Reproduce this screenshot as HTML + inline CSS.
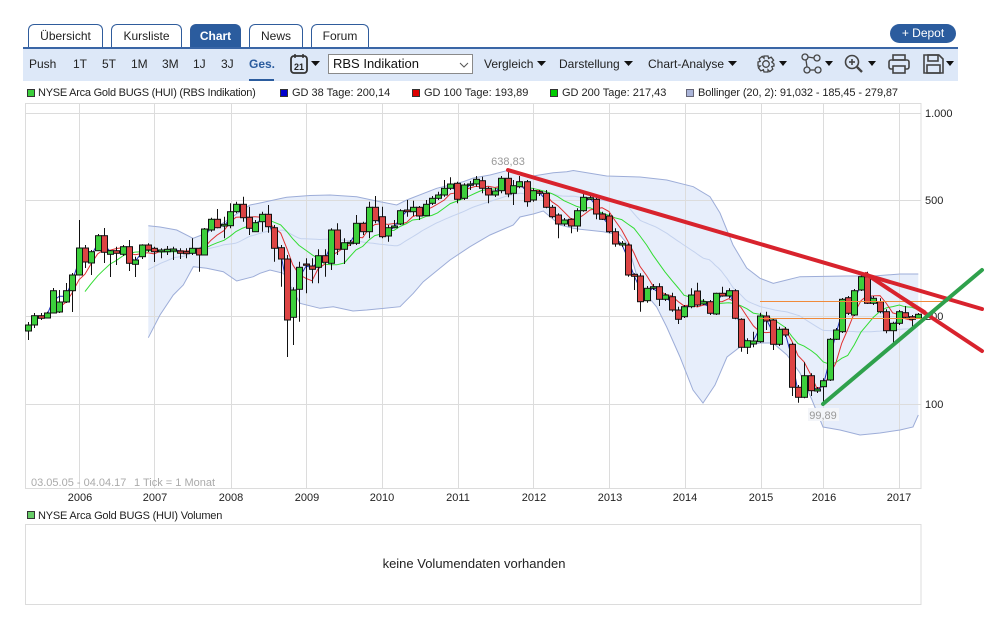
<!DOCTYPE html>
<html><head><meta charset="utf-8">
<style>
*{margin:0;padding:0;box-sizing:border-box}
body{width:1008px;height:630px;background:#fff;font-family:"Liberation Sans",Arial,sans-serif;color:#222;position:relative;overflow:hidden}
.a{position:absolute;white-space:nowrap}
.tab{position:absolute;top:24px;height:25px;border:1px solid #2f5c9c;border-bottom:none;border-radius:6px 6px 0 0;background:#fff;font-size:12px;line-height:23px;text-align:center;color:#222}
.tab.act{background:#2b5c9e;color:#fff;font-weight:bold}
.tb{position:absolute;left:23px;top:47px;width:935px;height:34px;background:#dde8f8;border-top:2px solid #3a66a6}
.ti{position:absolute;top:57px;font-size:12px;line-height:14px;color:#222;white-space:nowrap}
.lg{position:absolute;top:87px;font-size:11px;line-height:13px;color:#222;white-space:nowrap}
.bx{position:absolute;top:89px;width:8px;height:8px;border:1px solid #333}
</style></head>
<body>
<div class="tab" style="left:28px;width:75px">Übersicht</div>
<div class="tab" style="left:111px;width:71px">Kursliste</div>
<div class="tab act" style="left:190px;width:51px">Chart</div>
<div class="tab" style="left:249px;width:54px">News</div>
<div class="tab" style="left:311px;width:58px">Forum</div>
<div class="a" style="left:890px;top:24px;width:66px;height:19px;border-radius:10px;background:#2b5c9e;color:#fff;font-size:12px;line-height:19px;text-align:center">+ Depot</div>

<div class="tb"></div>
<div class="ti" style="left:29px">Push</div>
<div class="ti" style="left:73px">1T</div>
<div class="ti" style="left:102px">5T</div>
<div class="ti" style="left:131px">1M</div>
<div class="ti" style="left:162px">3M</div>
<div class="ti" style="left:193px">1J</div>
<div class="ti" style="left:221px">3J</div>
<div class="ti" style="left:249px;color:#2b5c9e;font-weight:bold">Ges.</div>
<div class="a" style="left:249px;top:79px;width:25px;height:2px;background:#2b5c9e"></div>
<div class="a" style="left:328px;top:54px;width:145px;height:20px;background:#fff;border:1px solid #8a8a8a;font-size:13px;line-height:18px;padding-left:4px;color:#111">RBS Indikation</div>
<div class="ti" style="left:484px">Vergleich</div>
<div class="ti" style="left:559px">Darstellung</div>
<div class="ti" style="left:648px">Chart-Analyse</div>

<svg class="a" style="left:0;top:0" width="1008" height="90" viewBox="0 0 1008 90">
 <g fill="#111">
  <polygon points="311,61 320,61 315.5,66"/>
  <polygon points="537,61 546,61 541.5,66"/>
  <polygon points="624,61 633,61 628.5,66"/>
  <polygon points="728,61 737,61 732.5,66"/>
  <polygon points="779,61 787,61 783,66"/>
  <polygon points="825,61 833,61 829,66"/>
  <polygon points="868,61 876,61 872,66"/>
  <polygon points="946,61 954,61 950,66"/>
 </g>
 <rect x="291" y="56" width="16" height="17" rx="3" fill="none" stroke="#333" stroke-width="1.8"/>
 <line x1="295" y1="54" x2="295" y2="58" stroke="#333" stroke-width="1.5"/>
 <line x1="303" y1="54" x2="303" y2="58" stroke="#333" stroke-width="1.5"/>
 <text x="299" y="70" font-size="9" font-weight="bold" text-anchor="middle" fill="#222" font-family="Liberation Sans, sans-serif">21</text>
 <polyline points="460,63 464,67 468,63" fill="none" stroke="#555" stroke-width="1"/>
 <g transform="translate(766,64)" fill="none" stroke="#444" stroke-width="1.3">
  <circle r="3.3"/>
  <path d="M-2,-8 L2,-8 L2.6,-5.6 L5.2,-6.8 L7.6,-3.8 L5.8,-2 L8,0 L8,2 L5.8,2.6 L6.8,5.2 L3.8,7.6 L2,5.8 L2,8 L-2,8 L-2.6,5.8 L-5.2,6.8 L-7.6,3.8 L-5.8,2 L-8,2 L-8,-2 L-5.8,-2.6 L-6.8,-5.2 L-3.8,-7.6 L-2,-5.8 Z"/>
 </g>
 <g fill="none" stroke="#444" stroke-width="1.3">
  <circle cx="805" cy="57" r="3"/><circle cx="817" cy="58" r="3"/><circle cx="807" cy="70" r="3"/><circle cx="818" cy="70" r="3"/>
  <line x1="808" y1="57" x2="814" y2="58"/><line x1="806" y1="60" x2="807" y2="67"/><line x1="810" y1="70" x2="815" y2="70"/>
 </g>
 <g fill="none" stroke="#444" stroke-width="1.6">
  <circle cx="852" cy="62" r="6.5"/>
  <line x1="849" y1="62" x2="855" y2="62"/><line x1="852" y1="59" x2="852" y2="65"/>
  <line x1="857" y1="67" x2="862" y2="72" stroke-width="2.4"/>
 </g>
 <g fill="none" stroke="#444" stroke-width="1.6">
  <rect x="893" y="55" width="12" height="5"/>
  <rect x="889" y="60" width="20" height="9" rx="2"/>
  <rect x="893" y="66" width="12" height="7" fill="#dde8f8"/>
 </g>
 <g fill="none" stroke="#444" stroke-width="1.6">
  <path d="M924,55 L939,55 L943,59 L943,73 L924,73 Z"/>
  <rect x="928" y="55" width="10" height="6"/>
  <rect x="927" y="65" width="13" height="8"/>
 </g>
</svg>

<div class="bx" style="left:27px;background:#3ccf3c"></div>
<div class="lg" style="left:38px;letter-spacing:-0.25px">NYSE Arca Gold BUGS (HUI) (RBS Indikation)</div>
<div class="bx" style="left:280px;background:#0000cc"></div>
<div class="lg" style="left:292px">GD 38 Tage: 200,14</div>
<div class="bx" style="left:412px;background:#dd0000"></div>
<div class="lg" style="left:424px">GD 100 Tage: 193,89</div>
<div class="bx" style="left:550px;background:#00cc00"></div>
<div class="lg" style="left:562px">GD 200 Tage: 217,43</div>
<div class="bx" style="left:686px;background:#aab4d8;border-color:#667"></div>
<div class="lg" style="left:698px;letter-spacing:-0.1px">Bollinger (20, 2): 91,032 - 185,45 - 279,87</div>

<svg id="ch" class="a" style="left:0;top:0" width="1008" height="630" viewBox="0 0 1008 630" font-family="Liberation Sans, sans-serif">
 <g id="bandfill"></g>
 <g stroke="#dcdcdc" stroke-width="1" fill="none">
  <rect x="25.5" y="103.5" width="895.5" height="385"/>
  <line x1="26" y1="113.5" x2="921" y2="113.5"/>
  <line x1="26" y1="200.5" x2="921" y2="200.5"/>
  <line x1="26" y1="316.5" x2="921" y2="316.5"/>
  <line x1="26" y1="404.5" x2="921" y2="404.5"/>
  <line x1="79.5" y1="103" x2="79.5" y2="488"/>
  <line x1="154.5" y1="103" x2="154.5" y2="488"/>
  <line x1="231.5" y1="103" x2="231.5" y2="488"/>
  <line x1="306.5" y1="103" x2="306.5" y2="488"/>
  <line x1="382.5" y1="103" x2="382.5" y2="488"/>
  <line x1="458.5" y1="103" x2="458.5" y2="488"/>
  <line x1="533.5" y1="103" x2="533.5" y2="488"/>
  <line x1="609.5" y1="103" x2="609.5" y2="488"/>
  <line x1="685.5" y1="103" x2="685.5" y2="488"/>
  <line x1="761.5" y1="103" x2="761.5" y2="488"/>
  <line x1="823.5" y1="103" x2="823.5" y2="488"/>
  <line x1="899.5" y1="103" x2="899.5" y2="488"/>
  <rect x="25.5" y="524.5" width="895.5" height="80"/>
 </g>
 <g id="dyn"></g>
 <g font-size="11" fill="#222">
  <text x="925" y="117">1.000</text>
  <text x="925" y="204">500</text>
  <text x="925" y="320">200</text>
  <text x="925" y="408">100</text>
 </g>
 <g id="over"></g>
 <g font-size="11" fill="#222" text-anchor="middle">
  <text x="80" y="501">2006</text><text x="155" y="501">2007</text><text x="231" y="501">2008</text>
  <text x="307" y="501">2009</text><text x="382" y="501">2010</text><text x="458" y="501">2011</text>
  <text x="534" y="501">2012</text><text x="610" y="501">2013</text><text x="685" y="501">2014</text>
  <text x="761" y="501">2015</text><text x="824" y="501">2016</text><text x="899" y="501">2017</text>
 </g>
 <text x="31" y="486" font-size="11" fill="#aaa">03.05.05 - 04.04.17</text>
 <text x="134" y="486" font-size="11" fill="#aaa">1 Tick = 1 Monat</text>
 <text x="508" y="165" font-size="11" fill="#999" text-anchor="middle">638,83</text>
 <rect x="808" y="408" width="31" height="13" fill="#f3f5f9"/>
 <text x="823" y="419" font-size="11" fill="#999" text-anchor="middle">99,89</text>
 <rect x="27.5" y="511.5" width="7" height="7" fill="#66cc66" stroke="#333"/>
 <text x="38" y="519" font-size="11" fill="#222" letter-spacing="-0.2">NYSE Arca Gold BUGS (HUI) Volumen</text>
 <text x="474" y="568" font-size="13" fill="#222" text-anchor="middle">keine Volumendaten vorhanden</text>
</svg>

<script>
(function(){
var C=[[27.7,325,331,322,340,'g'],[33.7,315.7,325,313,328,'g'],[41,315.7,318.3,313,320,'r'],[46.7,313,318,311.7,318,'g'],[52.7,290.7,313,288,313,'g'],[59.3,302,312,290,313,'g'],[65.7,290.7,302,283,303,'g'],[71.7,275,290.7,273,312,'g'],[79,248,275,220,275,'g'],[85,248,262,245,268,'r'],[90.7,251.7,263,250,275,'g'],[97.7,235.7,250.7,234,251,'g'],[104,235.7,252.3,228,263,'r'],[110,250.7,254.3,250,277,'g'],[116,250.7,253.3,246.7,265,'r'],[123,246.7,254.3,245,256,'g'],[129,246.7,263.3,240,271,'r'],[135,260,264.3,256.7,277,'g'],[142,245,256.7,244.3,259,'g'],[147.7,245,250,243.3,252,'r'],[154,248.3,251.7,246.7,262,'r'],[160.7,250,251.7,248.3,258.3,'g'],[166.7,249.3,251.7,246,255,'g'],[172.7,249,251,246.7,260,'g'],[180,251,253.3,248.3,259,'r'],[186,251.7,253.7,248.3,258.3,'r'],[192,248.3,253.3,238.3,255,'g'],[198.7,248.3,255,247.7,271.7,'r'],[204.3,229,255,228,255,'g'],[211,219.3,230,217.7,231.7,'g'],[217,219.3,227.7,209,228.3,'r'],[224,224.3,226,216.7,238.3,'d'],[230,211.7,225.7,203.3,228.3,'g'],[236,204.3,211.7,201.7,213.3,'g'],[242.7,204.3,217.7,196.7,221.7,'r'],[249,217.3,228.3,206.7,235,'r'],[255,222.7,231.7,220,232,'g'],[261.7,214.3,221.7,211.7,231.7,'g'],[267.7,214.3,226.7,205,232.7,'r'],[274,227.7,248.3,225,261.7,'r'],[280.7,247.7,259,245,286.7,'r'],[287,259,320,255,357,'r'],[292.7,290,317.3,287.3,345,'g'],[299,267.3,289.3,261.7,321.7,'g'],[306,264,265.3,258.3,293.3,'r'],[312,266,269.3,258.3,283.3,'r'],[318,255.7,267.3,249.3,283.3,'g'],[325,255.7,262.3,249.3,276.7,'r'],[331,230,263.3,228.3,270,'g'],[336.7,230,249.3,223.3,255,'r'],[344.3,242.7,249.3,238.3,264,'g'],[350,242.3,243.7,240,246,'d'],[356,223.3,243.3,215,245,'g'],[362.7,223.3,231.7,221.7,235,'r'],[368.7,207.3,231.7,201.7,238.3,'g'],[374.7,207.3,220.7,196,223.3,'r'],[382,216.7,236.7,206.7,238.3,'r'],[387.7,227.7,236,225,241.7,'g'],[394,226,227.7,220,228.3,'d'],[400,210.7,224,209.3,225,'g'],[406.7,210,211.7,200,216.7,'r'],[412.7,207.3,211.7,200.7,216,'g'],[419,207.3,216,206,220,'r'],[425.7,204.3,215.7,200,216,'g'],[431.7,198.3,203.3,196,205,'g'],[437.7,195,198.3,191.7,200,'g'],[444.3,188.3,195,180,196.7,'g'],[450.3,184,188.3,177.3,190,'g'],[457,183.3,199.3,181.7,203.3,'r'],[463.7,185,198.3,183.3,200,'g'],[469.7,184,185.3,181,190,'d'],[475.7,179.3,184,176,186.7,'g'],[481.7,180.7,188.3,176.7,193.3,'r'],[488.3,188.3,195,186.7,203.3,'r'],[495,191,195,188,197,'g'],[501,178.3,190.7,176,193.3,'g'],[508,178.3,194,169.4,197.3,'r'],[513.3,185.7,193.3,180,205,'g'],[519.3,181.7,186.7,176,188.3,'g'],[526.7,181.7,201.7,180,206.7,'r'],[532.7,190.7,200,188.3,201.7,'g'],[539,191.7,193.3,190,196,'r'],[546,193.3,207.3,190,208.3,'r'],[551.7,207.3,216.7,205,218.3,'r'],[557.7,215,224,213.3,238.3,'r'],[564,220,224,218,226,'g'],[570.7,219.3,226,218.3,233.3,'r'],[576.7,210.7,226,208.3,231.7,'g'],[583.3,197.3,210.7,193.3,211.7,'g'],[590,197.7,199.3,195,200,'d'],[596,199.3,214,196.7,219.3,'r'],[602,214,219.3,211.7,220,'r'],[609,216,231.7,213.3,233.3,'r'],[615,231.7,244,228.3,246.7,'r'],[621.7,243.3,245,241,247,'d'],[628,245,275,243.3,276.7,'r'],[634,274.3,276.3,273.3,290,'r'],[640,276,301.7,273.3,311.7,'r'],[646.7,288.3,300.7,286,302.7,'g'],[652.7,286.7,288.3,284,290,'d'],[659,286.7,299.3,283.3,306,'r'],[665,295,299.3,293,301,'g'],[671.7,296.7,310,292.7,311.7,'r'],[678.3,310,319.3,306.7,324,'r'],[684,306.7,316.7,305,318,'g'],[691,295,306.7,288.3,308.3,'g'],[697.3,291,305,282.7,306.7,'r'],[702.7,301.7,304,299,305,'g'],[710,301.7,313.3,300,315,'r'],[716,293.3,314,292.7,315,'g'],[722,293.3,296,286.7,296.7,'r'],[728.7,290.7,296,288.3,298.3,'g'],[734.7,290.7,318.3,289.3,319.3,'r'],[741,319.3,347.3,318.3,351.7,'r'],[747,340.7,347.3,338.3,354,'g'],[753.3,341,344,331.7,347.3,'g'],[760,316,341.7,312.7,342.7,'g'],[766,316,321,311.7,330,'r'],[772.7,320,344.3,318.3,350,'r'],[778.7,329.3,344.3,326.7,346,'g'],[785,329.3,335,327,337,'r'],[792,344.3,387.3,342.7,396,'r'],[798,387.3,397.3,385,402.7,'r'],[804,375.7,397.3,362.3,398.3,'g'],[811,375.7,390.7,373.3,396,'r'],[816.7,389,391,387,393,'d'],[823.3,380.7,386.7,378.3,403.1,'g'],[830,339.3,380,338,381,'g'],[835.7,330,339.3,328,340,'g'],[841.7,299.3,331.7,298,333,'g'],[847.7,297.7,313.3,296,315,'r'],[854.3,290.7,315,289,316,'g'],[861,276.7,290,275,291,'g'],[866.7,276.7,303.3,271.7,304,'r'],[873.3,298.3,303.3,296,305,'g'],[880,301.7,311.7,298.3,313.3,'r'],[886,311.7,330.7,309.3,333.3,'r'],[892.7,323.3,330.7,321.7,343.3,'g'],[899.3,311.7,323.3,310,325,'g'],[905,312.7,317.3,306,319,'r'],[911.7,316.7,319.3,315,328.3,'r'],[918.3,314.3,318.3,313,319,'g']];
var U=[[148.3,225.7],[160,227],[176.7,230],[193,238.3],[201.7,235],[220,225],[240,211.7],[250,205],[260,203],[283,198],[286.7,197.3],[310,195.5],[330,195],[356.7,196.7],[380,201.7],[396.7,205],[406.7,200],[436.7,188.3],[463.3,181.7],[473.3,178],[490,175],[506.7,170.7],[513.3,170],[526.7,176],[530,176.5],[553.3,172.7],[566.7,171.7],[573.3,170.5],[606.7,176],[640,177],[666.7,180],[693.3,186.7],[710,196.7],[720,213],[733,245],[746.7,268],[760,278.3],[773.3,283.3],[786.7,280],[800,276.7],[846.7,276],[873.3,276],[900,274],[918.3,274]];
var L=[[148.3,337.7],[160,315],[173.3,295],[183.3,285],[193.3,266.7],[206.7,268.3],[223.3,271.7],[236.7,281],[253.3,276.7],[260,273.3],[270,270],[283.3,273.3],[300,303.3],[320,308.3],[333.3,306.7],[353,311],[366.7,310],[400,306.7],[413.3,293.3],[423.3,281.7],[450,260],[470,246.7],[490,235],[513.3,225],[520,217],[533.3,214],[543.3,211],[560,225],[573.3,228.3],[580,229.3],[603.3,231.7],[620,235],[628,245],[640,287],[656.7,307],[666.7,327],[680,357],[693,390],[703,403],[715,385],[727,357],[740,347],[760,343],[773,343],[787,355],[800,373],[812,400],[823,427],[840,430],[860,435],[880,433],[900,430],[913,427],[918.3,415]];
function yp(y){return Math.pow(10,3-(y-113)/290);}
function py(p){return 113+(3-Math.log(p)/Math.LN10)*290;}
function ip(a,x){for(var i=0;i<a.length-1;i++){if(x>=a[i][0]&&x<=a[i+1][0]){var t=(x-a[i][0])/(a[i+1][0]-a[i][0]);return a[i][1]+t*(a[i+1][1]-a[i][1]);}}return a[a.length-1][1];}
function pts(a){return a.map(function(p){return p[0].toFixed(1)+','+p[1].toFixed(1);}).join(' ');}
var poly=pts(U)+' '+pts(L.slice().reverse());
document.getElementById('bandfill').innerHTML='<polygon points="'+poly+'" fill="#e7eefb"/>';
var s='';
var M=[];for(var x=148.3;x<=918.3;x+=3){M.push([x,py((yp(ip(U,x))+yp(ip(L,x)))/2)]);}
M.push([918.3,py((yp(ip(U,918.3))+yp(ip(L,918.3)))/2)]);
s+='<polyline points="'+pts(M)+'" fill="none" stroke="#c4d2ee" stroke-width="1"/>';
s+='<polyline points="'+pts(U)+'" fill="none" stroke="#9dadd8" stroke-width="1"/>';
s+='<polyline points="'+pts(L)+'" fill="none" stroke="#9dadd8" stroke-width="1"/>';
var cl=C.map(function(c){return c[5]=='r'?c[2]:(c[5]=='g'?c[1]:(c[1]+c[2])/2);});
function ma(n){var r=[];for(var i=n-1;i<C.length;i++){var q=0;for(var j=i-n+1;j<=i;j++)q+=yp(cl[j]);r.push([C[i][0],py(q/n)]);}return r;}
s+='<polyline points="'+pts(ma(10))+'" fill="none" stroke="#33dd33" stroke-width="1"/>';
s+='<polyline points="'+pts(ma(5))+'" fill="none" stroke="#e03030" stroke-width="1"/>';
s+='<polyline points="'+pts(ma(2))+'" fill="none" stroke="#2233bb" stroke-width="1"/>';
C.forEach(function(c){
 var cx=Math.round(c[0])+0.5;
 s+='<line x1="'+cx+'" y1="'+c[3]+'" x2="'+cx+'" y2="'+c[4]+'" stroke="#111" stroke-width="1"/>';
 var h=Math.max(c[2]-c[1],1.2);
 var f=c[5]=='r'?'#dc4444':'#3ccf3c';
 s+='<rect x="'+(cx-3)+'" y="'+c[1]+'" width="6" height="'+h.toFixed(1)+'" fill="'+f+'" stroke="#111" stroke-width="1"/>';
});
document.getElementById('dyn').innerHTML=s;
var o='';
o+='<line x1="760" y1="301.5" x2="948" y2="301.5" stroke="#f08a3a" stroke-width="1"/>';
o+='<line x1="760" y1="318.5" x2="925" y2="318.5" stroke="#f08a3a" stroke-width="1"/>';
o+='<line x1="508" y1="170" x2="982" y2="309" stroke="#d8232d" stroke-width="4" stroke-linecap="round"/>';
o+='<line x1="866" y1="274" x2="982" y2="351" stroke="#d8232d" stroke-width="4" stroke-linecap="round"/>';
o+='<line x1="866" y1="274" x2="926" y2="312" stroke="#d8232d" stroke-width="2"/>';
o+='<line x1="823" y1="404" x2="982" y2="270" stroke="#2fa14c" stroke-width="4" stroke-linecap="round"/>';
document.getElementById('over').innerHTML=o;
})();
</script>
</body></html>
